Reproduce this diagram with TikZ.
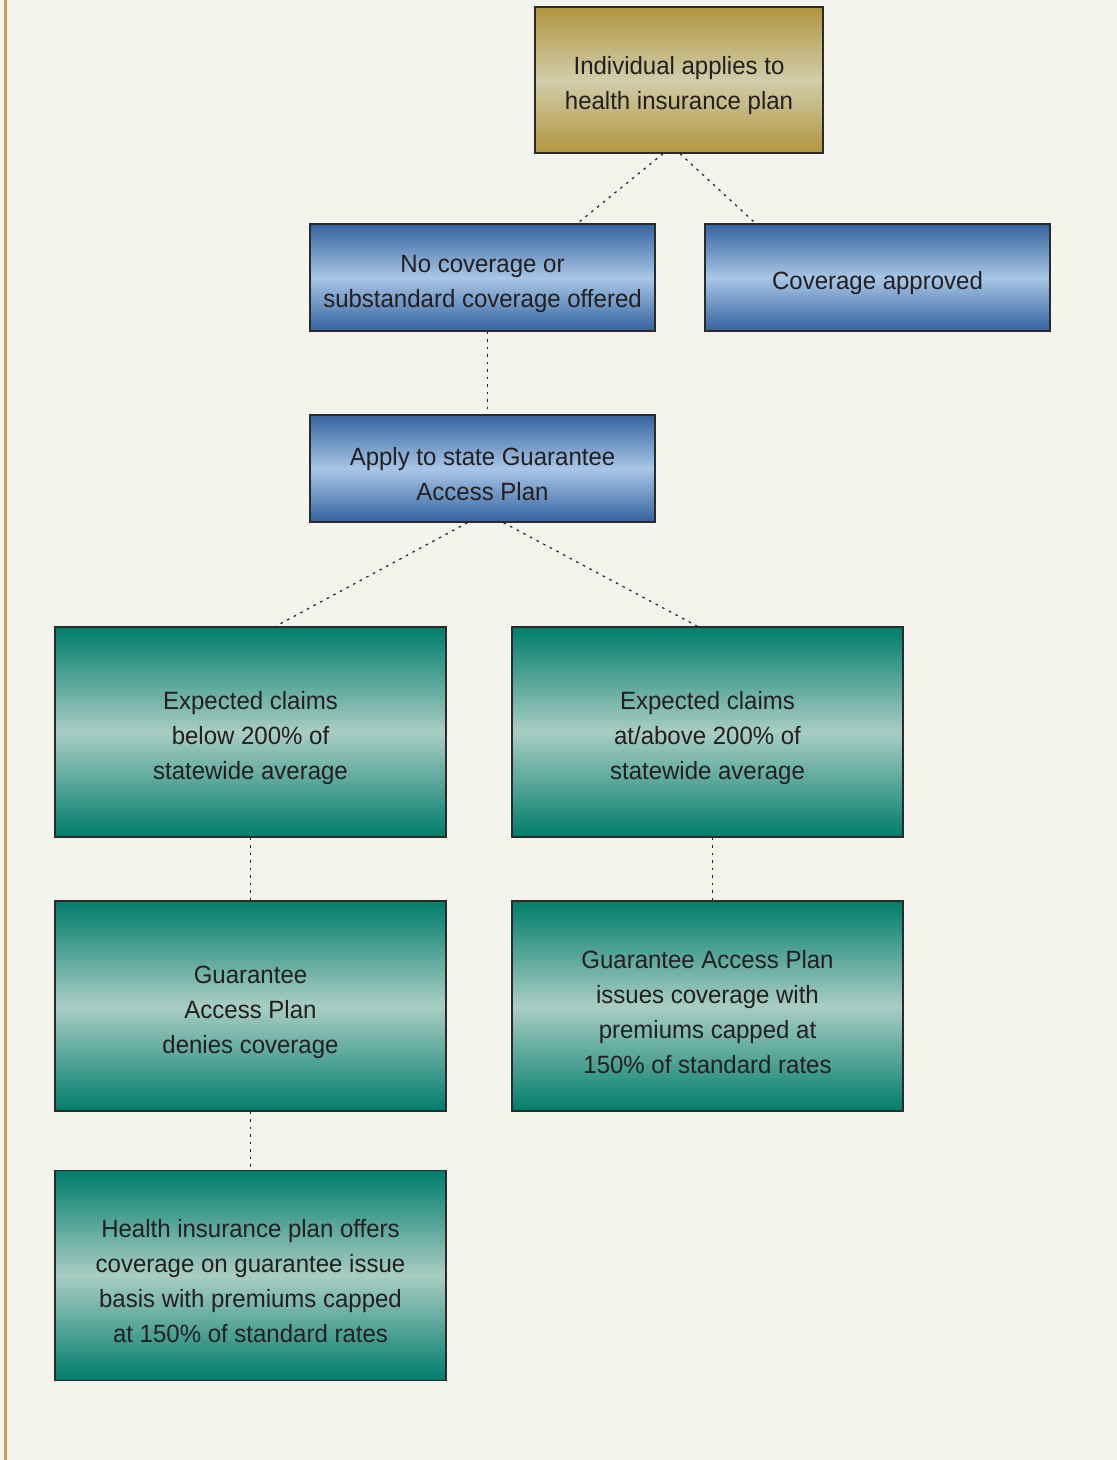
\documentclass[tikz,border=0pt]{standalone}
\usepackage{fontspec}
\setmainfont[FakeStretch=0.96]{Liberation Sans}
\usetikzlibrary{positioning}
\definecolor{cfond}{HTML}{F4F3EC}
\definecolor{cfilet}{HTML}{BFA152}
\definecolor{ctexte}{HTML}{231F20}
\definecolor{cbord}{HTML}{2B2B2B}
\definecolor{corfonce}{HTML}{B2953E}
\definecolor{corclair}{HTML}{D0CDAA}
\definecolor{cbleufonce}{HTML}{3463A0}
\definecolor{cbleuclair}{HTML}{A8C6E6}
\definecolor{cvertfonce}{HTML}{007D6C}
\definecolor{cvertclair}{HTML}{A9CDC3}
% abaisse un peu le texte dans les boites
\newcommand{\decal}{\rule{0pt}{30pt}}

\begin{document}
\begin{tikzpicture}[x=1pt, y=-1pt,
    boite/.style={draw=cbord, line width=1.3pt, align=center, text=ctexte,
      font=\fontsize{25}{35}\selectfont, inner sep=0pt},
    dore/.style={boite, minimum width=288pt, minimum height=146pt,
      top color=corfonce, bottom color=corfonce, middle color=corclair},
    bleue/.style={boite, minimum width=345pt, minimum height=107pt,
      top color=cbleufonce, bottom color=cbleufonce, middle color=cbleuclair},
    verte/.style={boite, minimum width=391pt, minimum height=210pt,
      top color=cvertfonce, bottom color=cvertfonce, middle color=cvertclair},
    lien/.style={draw=ctexte, line width=1.2pt, dash pattern=on 2.5pt off 5pt}]
  \useasboundingbox[fill=cfond] (0,0) rectangle (1117,1460);
  \fill[cfilet] (4,0) rectangle (7,1460);

  % niveau 1 et 2
  \node[dore] (demande) at (679,80) {\decal Individual applies to\\health insurance plan};
  \node[bleue] (refus) at (482.5,277.5) {\decal No coverage or\\substandard coverage offered};
  \node[bleue] (accord) at (877.5,277.5) {\decal Coverage approved};
  \node[bleue] (gap) at (482.5,468.5) {\decal Apply to state Guarantee\\Access Plan};

  % selon les sinistres attendus
  \node[verte] (sous) at (250.5,732) {\decal Expected claims\\below 200\% of\\statewide average};
  \node[verte] (sur) at (707.5,732) {\decal Expected claims\\at/above 200\% of\\statewide average};
  \node[verte] (rejet) at (250.5,1006) {\decal Guarantee\\Access Plan\\denies coverage};
  \node[verte] (emis) at (707.5,1006) {\decal Guarantee Access Plan\\issues coverage with\\premiums capped at\\150\% of standard rates};
  \node[verte] (offre) at (250.5,1275.5) {\decal Health insurance plan offers\\coverage on guarantee issue\\basis with premiums capped\\at 150\% of standard rates};

  \draw[lien] ([xshift=-16pt]demande.south) -- ([xshift=95pt]refus.north);
  \draw[lien] ([xshift=1pt]demande.south) -- ([xshift=-122pt]accord.north);
  \draw[lien] ([xshift=5pt]refus.south) -- ([xshift=5pt]gap.north);
  \draw[lien] ([xshift=-15pt]gap.south) -- ([xshift=25pt]sous.north);
  \draw[lien] ([xshift=21pt]gap.south) -- ([xshift=-10pt]sur.north);
  \draw[lien] (sous.south) -- (rejet.north);
  \draw[lien] ([xshift=5pt]sur.south) -- ([xshift=5pt]emis.north);
  \draw[lien] (rejet.south) -- (offre.north);
\end{tikzpicture}
\end{document}
